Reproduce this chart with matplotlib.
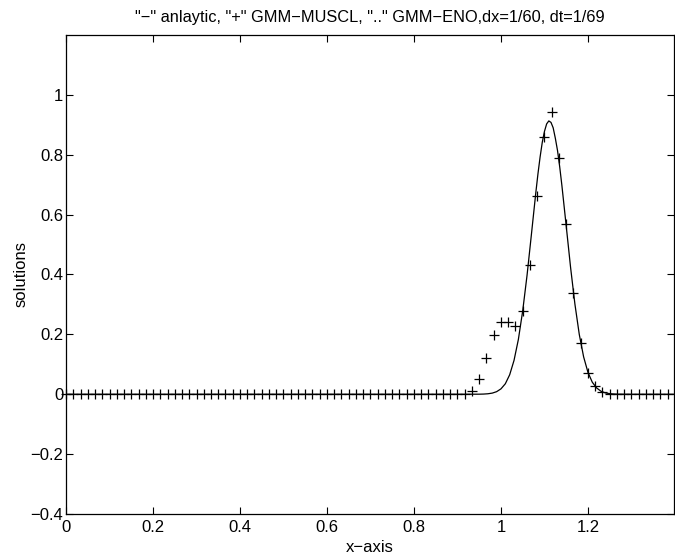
import numpy as np
import matplotlib
matplotlib.use("Agg")
import matplotlib.pyplot as plt

plt.rcParams['font.family'] = ['Liberation Sans', 'DejaVu Sans']
plt.rcParams['axes.unicode_minus'] = True

# GMM-MUSCL values on the grid x = i/60 (i = 0..83)
n_cells = 84
muscl_nonzero = {
    56: 0.010, 57: 0.052, 58: 0.122, 59: 0.197, 60: 0.241, 61: 0.241,
    62: 0.227, 63: 0.277, 64: 0.432, 65: 0.663, 66: 0.858, 67: 0.944,
    68: 0.789, 69: 0.570, 70: 0.339, 71: 0.170, 72: 0.070, 73: 0.027,
    74: 0.009, 75: 0.002,
}
x_muscl = np.arange(n_cells) / 60.0
y_muscl = np.array([muscl_nonzero.get(i, 0.0) for i in range(n_cells)])

# analytic solution, sampled off the curve
x_exact = [0.0, 0.90, 0.95, 0.96, 0.97, 0.98, 0.99, 1.00, 1.01, 1.02, 1.03,
           1.04, 1.05, 1.06, 1.07, 1.08, 1.085, 1.09, 1.095, 1.10, 1.105,
           1.11, 1.115, 1.12, 1.125, 1.13, 1.135, 1.14,
           1.15, 1.16, 1.17, 1.18, 1.19, 1.20, 1.21, 1.22, 1.23, 1.24, 1.25,
           1.26, 1.27, 1.30, 1.397]
y_exact = [0.0, 0.0, 0.0002, 0.0006, 0.0016, 0.0038, 0.0086, 0.018, 0.035,
           0.065, 0.113, 0.183, 0.279, 0.398, 0.534, 0.672, 0.736, 0.793,
           0.842, 0.878, 0.903, 0.913, 0.908, 0.890, 0.855, 0.814, 0.760,
           0.698, 0.562, 0.424, 0.301, 0.200, 0.125,
           0.073, 0.040, 0.021, 0.010, 0.0045, 0.002, 0.0008, 0.0003, 0.0, 0.0]

xticks = [0, 0.2, 0.4, 0.6, 0.8, 1.0, 1.2]
xtick_labels = ['0', '0.2', '0.4', '0.6', '0.8', '1', '1.2']
yticks = [-0.4, -0.2, 0, 0.2, 0.4, 0.6, 0.8, 1.0]
ytick_labels = ['\u22120.4', '\u22120.2', '0', '0.2', '0.4', '0.6', '0.8', '1']

fig = plt.figure(figsize=(6.75, 5.59), dpi=100)
ax = fig.add_axes([0.0978, 0.0805, 0.9002, 0.8569])

ax.plot(x_exact, y_exact, color='black', lw=0.9)
ax.plot(x_muscl, y_muscl, linestyle='none', marker='+', color='black',
        markersize=7, markeredgewidth=0.9, clip_on=False)

ax.set_xlim(0, 1.397)
ax.set_ylim(-0.4, 1.2)
ax.set_xticks(xticks)
ax.set_xticklabels(xtick_labels)
ax.set_yticks(yticks)
ax.set_yticklabels(ytick_labels)
ax.tick_params(direction='in', top=True, right=True, length=5, width=0.8,
               labelsize=12, pad=2)
ax.tick_params(axis='x', pad=4)
for s in ax.spines.values():
    s.set_linewidth(0.9)

ax.set_title('"\u2212" anlaytic, "+" GMM\u2212MUSCL, ".." GMM\u2212ENO,dx=1/60, dt=1/69',
             fontsize=11.8, pad=9)
ax.set_xlabel('x\u2212axis', fontsize=12, labelpad=4)
ax.set_ylabel('solutions', fontsize=12, labelpad=1)

fig.savefig('out.png', dpi=100)
